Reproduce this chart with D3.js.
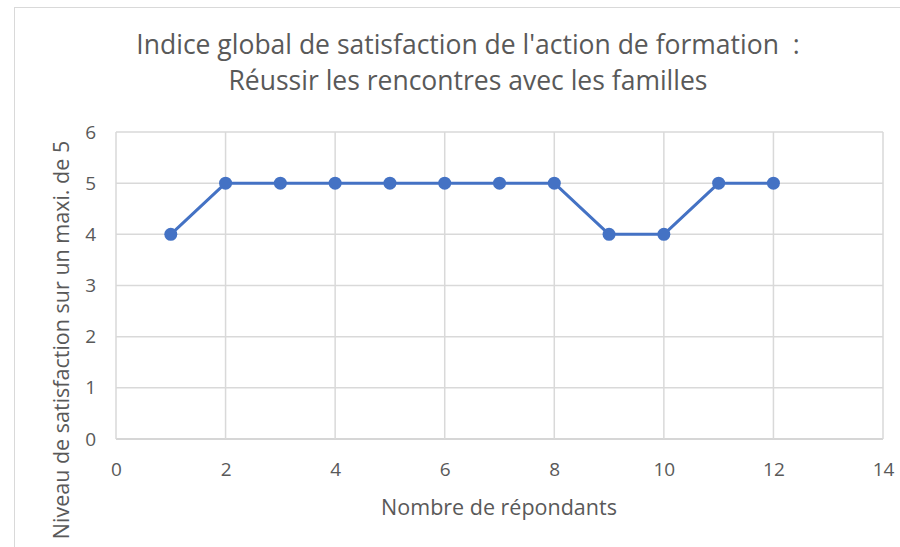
<!DOCTYPE html>
<html>
<head>
<meta charset="utf-8">
<script src="https://cdn.jsdelivr.net/npm/d3@7"></script>
<style>
  body { margin: 0; background: #fff; }
  svg { font-family: "Open Sans", sans-serif; }
</style>
</head>
<body>
<svg id="chart" width="900" height="547"></svg>
<script>
// les données du graphique
const repondants = [1, 2, 3, 4, 5, 6, 7, 8, 9, 10, 11, 12];
const satisfaction = [4, 5, 5, 5, 5, 5, 5, 5, 4, 4, 5, 5];
const xTicks = [0, 2, 4, 6, 8, 10, 12, 14];
const yTicks = [0, 1, 2, 3, 4, 5, 6];
const titre = ["Indice global de satisfaction de l'action de formation  :", "Réussir les rencontres avec les familles"];

const svg = d3.select('#chart');
const textColor = '#595959';

// cadre du graphique
svg.append('rect')
  .attr('x', 14.5).attr('y', 7.5)
  .attr('width', 900).attr('height', 560)
  .attr('fill', '#fff')
  .attr('stroke', '#d9d9d9');

const plotLeft = 116, plotRight = 883, plotTop = 132, plotBottom = 439;

let x = d3.scaleLinear().domain([0, 14]).range([plotLeft, plotRight]);
let y = d3.scaleLinear().domain([0, 6]).range([plotBottom, plotTop]);

// grille
svg.append('g')
  .selectAll('line')
  .data(yTicks)
  .enter()
  .append('line')
  .attr('x1', plotLeft).attr('x2', plotRight)
  .attr('y1', d => y(d)).attr('y2', d => y(d))
  .attr('stroke', d => d === 0 ? '#c8c8c8' : '#d9d9d9').attr('stroke-width', 1.5);

svg.append('g')
  .selectAll('line')
  .data(xTicks)
  .enter()
  .append('line')
  .attr('x1', d => x(d)).attr('x2', d => x(d))
  .attr('y1', plotTop).attr('y2', plotBottom)
  .attr('stroke', '#d9d9d9').attr('stroke-width', 1.5);

// axes (seulement les libellés)
let xAxis = svg.append('g')
  .attr('transform', 'translate(0,' + plotBottom + ')')
  .call(d3.axisBottom(x).tickValues(xTicks).tickFormat(d3.format('d')).tickSize(0).tickPadding(24));
let yAxis = svg.append('g')
  .attr('transform', 'translate(' + plotLeft + ',0)')
  .call(d3.axisLeft(y).tickValues(yTicks).tickFormat(d3.format('d')).tickSize(0).tickPadding(20));

[xAxis, yAxis].forEach(a => {
  a.select('.domain').remove();
  a.selectAll('text')
    .attr('fill', textColor)
    .style('font-size', '19px')
    .style('font-family', '"Open Sans", sans-serif');
});

// la ligne
const points = repondants.map((r, i) => [r, satisfaction[i]]);
svg.append('path')
  .datum(points)
  .attr('fill', 'none')
  .attr('stroke', '#4472C4')
  .attr('stroke-width', 3)
  .attr('stroke-linejoin', 'round')
  .attr('d', d3.line().x(d => x(d[0])).y(d => y(d[1])));

svg.append('g')
  .selectAll('circle')
  .data(points)
  .enter()
  .append('circle')
  .attr('cx', d => x(d[0]))
  .attr('cy', d => y(d[1]))
  .attr('r', 6.5)
  .attr('fill', '#4472C4');

// titre
svg.append('g')
  .selectAll('text')
  .data(titre)
  .enter()
  .append('text')
  .attr('x', 468)
  .attr('y', (d, i) => 54 + i * 36)
  .attr('text-anchor', 'middle')
  .attr('fill', textColor)
  .style('font-size', '26.5px')
  .style('white-space', 'pre')
  .text(d => d);

// titres des axes
svg.append('text')
  .attr('x', 499)
  .attr('y', 515)
  .attr('text-anchor', 'middle')
  .attr('fill', textColor)
  .style('font-size', '21.5px')
  .text('Nombre de répondants');

svg.append('text')
  .attr('transform', 'translate(69,' + 340 + ') rotate(-90)')
  .attr('text-anchor', 'middle')
  .attr('fill', textColor)
  .style('font-size', '21.5px')
  .text('Niveau de satisfaction sur un maxi. de 5');
</script>
</body>
</html>
